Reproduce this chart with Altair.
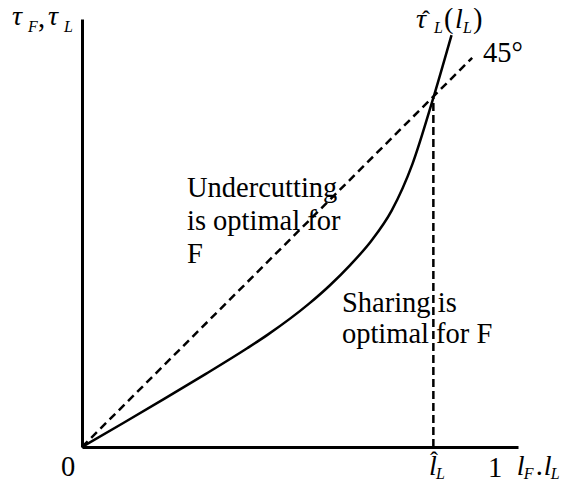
import altair as alt
import pandas as pd

# ---- data ----
curve_x = [0.0, 0.10, 0.20, 0.30, 0.40, 0.45, 0.55, 0.60, 0.65, 0.70, 0.75, 0.80, 0.85, 0.895]
curve_y = [0.0, 0.058, 0.117, 0.177, 0.239, 0.272, 0.347, 0.391, 0.441, 0.498, 0.572, 0.684, 0.842, 0.997]
diag_x = [0.0, 0.945]
diag_y = [0.0, 0.942]
lhat = 0.851
cross_y = 0.846
X_MAX = 1.056
Y_MAX = 1.036

# annotation layout (pixels converted to data units: 413 px per unit, origin at 82,447)
def px(x):
    return (x - 82) / 413.0

def py(y):
    return (447 - y) / 413.0

italic_big = [("τ", 12, 25), ("τ", 48, 25), ("τ", 416, 28), ("l", 455, 28),
              ("l", 429, 475), ("l", 517, 475), ("l", 544, 475)]
italic_sub = [("F", 28, 32), ("L", 64, 32), ("L", 434, 33), ("L", 463, 33),
              ("L", 436, 479), ("F", 524, 479), ("L", 551, 479)]
normal_big = [(",", 38, 27), ("(", 444, 28), (")", 473, 28), (".", 536, 475),
              ("45°", 483, 62), ("Undercutting", 187, 197), ("is optimal for", 187, 230),
              ("F", 187, 263), ("Sharing is", 342, 312), ("optimal for F", 342, 343),
              ("0", 61, 476), ("1", 488, 477)]
hats = [("ˆ", 426, 27), ("ˆ", 434, 468)]

def tdf(items):
    return pd.DataFrame({"t": [i[0] for i in items],
                         "x": [px(i[1]) for i in items],
                         "y": [py(i[2]) for i in items]})

axis_spec = alt.Axis(domain=True, domainColor="black", domainWidth=3, ticks=False,
                     labels=False, grid=False, title=None)
xs = alt.Scale(domain=[0, X_MAX], nice=False, zero=False)
ys = alt.Scale(domain=[0, Y_MAX], nice=False, zero=False)

def X():
    return alt.X("x:Q", scale=xs, axis=axis_spec)

def Y():
    return alt.Y("y:Q", scale=ys, axis=axis_spec)

curve_df = pd.DataFrame({"x": curve_x, "y": curve_y})
diag_df = pd.DataFrame({"x": diag_x, "y": diag_y})
vert_df = pd.DataFrame({"x": [lhat, lhat], "y": [0.0, cross_y]})

curve = alt.Chart(curve_df).mark_line(color="black", strokeWidth=2.5, interpolate="monotone").encode(
    x=X(), y=Y(), order="x:Q")
diag = alt.Chart(diag_df).mark_line(color="black", strokeWidth=2.5, strokeDash=[8, 5]).encode(
    x=X(), y=Y())
vert = alt.Chart(vert_df).mark_line(color="black", strokeWidth=2.5, strokeDash=[8, 4]).encode(
    x=X(), y=Y())

FONT = "Liberation Serif"
t1 = alt.Chart(tdf(italic_big)).mark_text(font=FONT, fontSize=28, fontStyle="italic",
                                          align="left", baseline="alphabetic", color="black").encode(
    x=X(), y=Y(), text="t:N")
t2 = alt.Chart(tdf(italic_sub)).mark_text(font=FONT, fontSize=16, fontStyle="italic",
                                          align="left", baseline="alphabetic", color="black").encode(
    x=X(), y=Y(), text="t:N")
t3 = alt.Chart(tdf(normal_big)).mark_text(font=FONT, fontSize=28.5,
                                          align="left", baseline="alphabetic", color="black").encode(
    x=X(), y=Y(), text="t:N")
t4 = alt.Chart(tdf(hats)).mark_text(font=FONT, fontSize=24,
                                    align="center", baseline="alphabetic", color="black").encode(
    x=X(), y=Y(), text="t:N")

chart = alt.layer(diag, vert, curve, t1, t2, t3, t4).properties(
    width=436, height=428, autosize="none",
    padding={"left": 74, "top": 11, "right": 45, "bottom": 32},
).configure_view(strokeWidth=0)

chart.save("out.html", embed_options={"renderer": "svg", "actions": False})
